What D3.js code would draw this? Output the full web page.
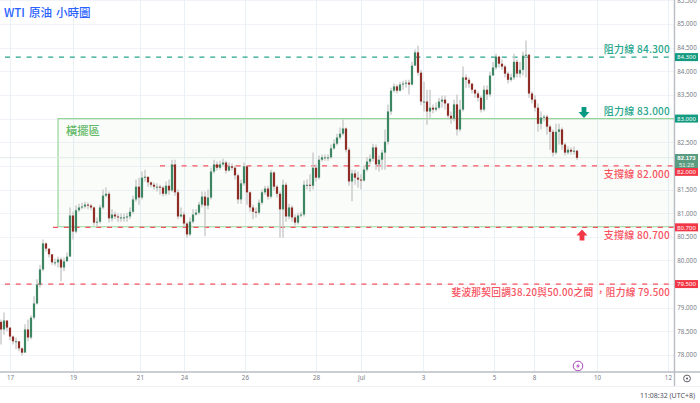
<!DOCTYPE html>
<html>
<head>
<meta charset="utf-8">
<script src="https://cdn.jsdelivr.net/npm/d3@7"></script>
<style>
  html, body { margin: 0; padding: 0; background: #fff; }
  svg { display: block; font-family: "Noto Sans CJK TC", "Noto Sans", sans-serif; }
</style>
</head>
<body>
<div id="chart"></div>
<script>
// WTI hourly candles
const opens = [78.70,78.54,78.73,78.58,78.39,78.29,78.29,78.14,78.05,78.54,78.37,78.79,79.09,79.49,79.81,80.36,80.25,80.13,79.96,79.96,80.02,79.85,79.98,80.08,80.95,80.61,81.06,81.12,81.14,81.18,81.16,81.12,80.80,80.82,81.12,81.37,81.41,80.89,80.97,80.93,80.91,80.91,80.91,80.93,81.03,81.29,81.56,81.33,81.75,81.77,81.65,81.60,81.56,81.56,81.54,81.41,81.58,81.48,82.03,81.44,80.93,80.97,80.78,80.55,80.82,80.97,81.01,81.18,81.35,81.16,81.33,81.88,82.03,81.96,82.03,82.07,81.90,81.99,81.96,81.80,81.29,81.63,81.99,81.44,81.12,81.03,81.01,81.22,81.44,81.52,81.35,81.86,81.56,81.41,81.08,81.60,80.93,81.12,80.91,80.80,80.95,80.97,81.60,81.60,81.58,81.96,81.75,82.13,82.18,82.18,82.18,82.37,82.47,82.60,82.68,82.79,82.34,81.67,81.84,81.75,81.71,81.69,81.92,82.09,82.15,82.39,82.03,82.13,82.28,82.51,83.15,83.59,83.68,83.59,83.72,83.74,83.76,83.72,84.12,84.40,83.97,83.36,83.36,83.15,83.23,83.19,83.23,83.36,83.40,83.32,83.06,83.00,83.30,82.77,83.19,83.87,83.82,83.74,83.61,83.53,83.44,83.19,83.61,83.51,83.91,84.08,84.31,84.16,84.10,83.95,83.82,83.87,84.20,83.95,84.03,84.33,84.35,83.53,83.40,83.23,82.89,83.02,83.04,82.83,82.72,82.28,82.72,82.77,82.45,82.28,82.34,82.30,82.32];
const closes = [78.54,78.73,78.58,78.39,78.29,78.29,78.14,78.05,78.54,78.37,78.79,79.09,79.49,79.81,80.36,80.25,80.13,79.96,79.96,80.02,79.85,79.98,80.08,80.95,80.61,81.06,81.12,81.14,81.18,81.16,81.12,80.80,80.82,81.12,81.37,81.41,80.89,80.97,80.93,80.91,80.91,80.91,80.93,81.03,81.29,81.56,81.33,81.75,81.77,81.65,81.60,81.56,81.56,81.54,81.41,81.58,81.48,82.03,81.44,80.93,80.97,80.78,80.55,80.82,80.97,81.01,81.18,81.35,81.16,81.33,81.88,82.03,81.96,82.03,82.07,81.90,81.99,81.96,81.80,81.29,81.63,81.99,81.44,81.12,81.03,81.01,81.22,81.44,81.52,81.35,81.86,81.56,81.41,81.08,81.60,80.93,81.12,80.91,80.80,80.95,80.97,81.60,81.60,81.58,81.96,81.75,82.13,82.18,82.18,82.18,82.37,82.47,82.60,82.68,82.79,82.34,81.67,81.84,81.75,81.71,81.69,81.92,82.09,82.15,82.39,82.03,82.13,82.28,82.51,83.15,83.59,83.68,83.59,83.72,83.74,83.76,83.72,84.12,84.40,83.97,83.36,83.36,83.15,83.23,83.19,83.23,83.36,83.40,83.32,83.06,83.00,83.30,82.77,83.19,83.87,83.82,83.74,83.61,83.53,83.44,83.19,83.61,83.51,83.91,84.08,84.31,84.16,84.10,83.95,83.82,83.87,84.20,83.95,84.03,84.33,84.35,83.53,83.40,83.23,82.89,83.02,83.04,82.83,82.72,82.28,82.72,82.77,82.45,82.28,82.34,82.30,82.32,82.17];
const highs = [78.75,78.90,78.71,78.52,78.41,78.37,78.25,78.16,78.65,78.75,78.84,79.24,79.60,79.91,80.44,80.38,80.23,80.06,80.04,80.08,80.06,80.06,80.17,81.12,81.03,81.16,81.20,81.22,81.24,81.22,81.20,81.14,80.91,81.18,81.50,81.54,81.46,81.08,81.03,80.99,80.99,80.99,81.01,81.12,81.37,81.71,81.75,81.88,81.92,81.75,81.67,81.65,81.63,81.60,81.58,81.67,81.71,82.13,82.13,81.50,81.12,81.03,80.82,80.91,81.08,81.08,81.24,81.46,81.46,81.50,81.96,82.13,82.09,82.11,82.15,82.11,82.07,82.05,82.01,81.84,81.71,82.07,82.01,81.46,81.18,81.12,81.29,81.50,81.58,81.58,81.92,81.88,81.60,81.46,81.71,81.65,81.20,81.16,80.97,81.01,81.03,81.69,81.71,81.82,82.28,82.03,82.22,82.24,82.24,82.24,82.45,82.56,82.68,82.81,82.98,82.81,82.39,81.92,81.92,81.88,81.82,82.01,82.18,82.24,82.47,82.45,82.22,82.34,82.77,83.30,83.65,83.74,83.72,83.78,83.80,83.82,83.82,84.20,84.46,84.54,84.03,83.78,83.61,83.61,83.30,83.34,83.44,83.49,83.49,83.32,83.15,83.40,83.51,83.40,84.10,83.93,83.87,83.74,83.61,83.57,83.49,83.70,83.70,83.99,84.20,84.37,84.33,84.25,84.14,83.99,83.95,84.37,84.25,84.20,84.42,84.65,84.37,83.57,83.49,83.32,83.15,83.08,83.08,82.87,82.77,82.89,82.89,82.81,82.49,82.41,82.39,82.41,82.34];
const lows = [78.22,78.43,78.50,78.31,78.22,78.12,78.08,77.99,78.08,78.29,78.33,78.75,79.07,79.43,79.77,80.19,80.06,79.91,79.89,79.85,79.56,79.77,80.02,80.13,80.44,80.57,81.03,81.08,81.10,81.08,81.06,80.74,80.70,80.78,81.08,81.33,80.80,80.82,80.87,80.82,80.82,80.82,80.82,80.87,80.99,81.24,81.18,81.29,81.67,81.56,81.54,81.50,81.46,81.39,81.35,81.37,81.39,81.44,81.37,80.87,80.91,80.70,80.48,80.51,80.78,80.95,80.97,81.12,80.51,81.08,81.29,81.84,81.90,81.92,81.99,81.84,81.88,81.90,81.71,81.20,81.20,81.58,81.18,81.03,80.87,80.91,80.97,81.18,81.39,81.29,81.31,81.48,81.33,80.48,80.48,80.82,80.87,80.82,80.74,80.76,80.91,80.93,81.50,81.46,81.50,81.67,81.71,82.09,82.11,82.11,82.15,82.34,82.43,82.56,82.64,82.28,81.58,81.25,81.60,81.54,81.50,81.67,81.88,82.03,82.09,81.92,81.88,81.92,81.92,82.45,83.08,83.55,83.53,83.57,83.61,83.65,83.51,83.70,84.12,83.91,83.28,83.15,82.87,83.02,83.11,83.15,83.19,83.23,83.19,82.98,82.89,82.94,82.64,82.72,83.15,83.65,83.65,83.53,83.44,83.36,83.13,83.15,83.40,83.46,83.95,84.03,84.08,84.03,83.87,83.74,83.78,83.82,83.87,83.87,83.91,83.87,83.44,83.32,83.15,82.72,82.77,82.94,82.66,82.34,82.20,82.24,82.45,82.34,82.22,82.24,82.24,82.24,82.13];

// Axis ticks
const priceTicks = [85.5,85,84.5,84,83.5,82.5,81.5,81,80.5,80,79,78.5,78];
const gridPrices = [85.5,85,84.5,84,83.5,83,82.5,82,81.5,81,80.5,80,79.5,79,78.5,78];
const dateTickLabels = ['17','19','21','24','26','28','Jul','3','5','8','10','12'];
const dateTickIndex = [3,24,46.3,61,81.3,105,120,140.7,164.3,177.7,198.7,222.3];

// Horizontal levels
const resistanceLevels = [84.3];
const supportLevels = [82, 80.7, 79.5];
const rangeBox = [83, 80.7];
const lastPrice = 82.173;

// Dimensions
const width = 700, height = 403;
const plotRight = 674, plotBottom = 372;

const x = d3.scaleLinear().domain([0, 224]).range([1, 673]);
const y = d3.scaleLinear().domain([78, 85]).range([355, 24]);

const green = '#26a68c', red = '#f7525f';

const svg = d3.select('#chart').append('svg')
  .attr('width', width)
  .attr('height', height);

// Grid
svg.append('g').selectAll('line').data(gridPrices).join('line')
  .attr('x1', 0).attr('x2', plotRight)
  .attr('y1', d => Math.round(y(d)) + 0.5).attr('y2', d => Math.round(y(d)) + 0.5)
  .attr('stroke', '#f0f3f8');
svg.append('g').selectAll('line').data(dateTickIndex).join('line')
  .attr('x1', d => Math.round(x(d)) + 0.5).attr('x2', d => Math.round(x(d)) + 0.5)
  .attr('y1', 0).attr('y2', plotBottom)
  .attr('stroke', '#eaf1f6');

// Range box
svg.append('rect')
  .attr('x', 58).attr('width', plotRight - 58)
  .attr('y', y(rangeBox[0])).attr('height', y(rangeBox[1]) - y(rangeBox[0]))
  .attr('fill', '#4caf50').attr('fill-opacity', 0.035);
svg.append('path')
  .attr('d', `M${plotRight},${y(rangeBox[0])}H58V${y(rangeBox[1]) - 0.6}H${plotRight}`)
  .attr('fill', 'none')
  .attr('stroke', '#97d69a')
  .attr('stroke-width', 1.2);
svg.append('text')
  .attr('x', 66).attr('y', 135)
  .attr('font-size', 11.3).attr('font-weight', 500).attr('fill', '#62b967')
  .text('橫擺區');

// Current price line
svg.append('line')
  .attr('x1', 0).attr('x2', plotRight)
  .attr('y1', y(lastPrice)).attr('y2', y(lastPrice))
  .attr('stroke', '#e3ebe7');

// Dashed levels
const levelStart = d => d === 82 ? 160 : d === 80.7 ? 53 : 5;
svg.append('g').selectAll('line').data(resistanceLevels).join('line')
  .attr('x1', 5).attr('x2', plotRight)
  .attr('y1', d => y(d)).attr('y2', d => y(d))
  .attr('stroke', green).attr('stroke-width', 1.1)
  .attr('stroke-dasharray', '5,5.8');
svg.append('g').selectAll('line').data(supportLevels).join('line')
  .attr('x1', levelStart).attr('x2', plotRight)
  .attr('y1', d => y(d)).attr('y2', d => y(d))
  .attr('stroke', red).attr('stroke-width', 1.2)
  .attr('stroke-dasharray', '5,5.8');

// Candles
const candles = svg.append('g').selectAll('g').data(closes).join('g');
candles.append('line')
  .attr('x1', (d, i) => x(i)).attr('x2', (d, i) => x(i))
  .attr('y1', (d, i) => y(highs[i])).attr('y2', (d, i) => y(lows[i]))
  .attr('stroke', '#c9c9c9').attr('stroke-width', 1.4);
candles.append('rect')
  .attr('x', (d, i) => x(i) - 1.1)
  .attr('width', 2.2)
  .attr('y', (d, i) => y(Math.max(opens[i], d)))
  .attr('height', (d, i) => Math.max(1, Math.abs(y(opens[i]) - y(d))))
  .attr('fill', (d, i) => d >= opens[i] ? '#3e8564' : '#8e2c26');

// Annotations
const notes = [
  { text: '阻力線 84.300', y: 52.8, color: green, size: 10 },
  { text: '阻力線 83.000', y: 114.5, color: green, size: 10 },
  { text: '支撐線 82.000', y: 177.7, color: red, size: 10 },
  { text: '支撐線 80.700', y: 239.4, color: red, size: 10 },
  { text: '斐波那契回調38.20與50.00之間 ，阻力線 79.500', y: 296.4, color: red, size: 9.7 }
];
svg.append('g').selectAll('text').data(notes).join('text')
  .attr('x', 670).attr('y', d => d.y)
  .attr('text-anchor', 'end')
  .attr('font-size', d => d.size)
  .attr('font-weight', 500)
  .attr('letter-spacing', 0.25)
  .attr('fill', d => d.color)
  .text(d => d.text);

// Arrows
const arrow = 'M-2.4,-5.5H2.4V-0.5H5.5L0,5.5L-5.5,-0.5H-2.4Z';
svg.append('path').attr('d', arrow)
  .attr('transform', 'translate(584,112.5)').attr('fill', '#089981');
svg.append('path').attr('d', arrow)
  .attr('transform', 'translate(582,235) rotate(180)').attr('fill', '#f23645');

// Lightning marker
const bolt = svg.append('g').attr('transform', 'translate(578,366)');
bolt.append('circle').attr('r', 4.8)
  .attr('fill', '#fff').attr('stroke', '#ab47bc').attr('stroke-width', 1);
bolt.append('path').attr('d', 'M1,-3L-2,0.5H0L-1,3L2,-0.5H0Z').attr('fill', '#ab47bc');

// Title
svg.append('text')
  .attr('x', 4).attr('y', 17)
  .attr('font-size', 11.5).attr('font-weight', 500)
  .attr('word-spacing', 1.5)
  .attr('fill', '#2962ff')
  .text('WTI 原油 小時圖');

// Right axis
svg.append('line')
  .attr('x1', plotRight + 0.5).attr('x2', plotRight + 0.5)
  .attr('y1', 0).attr('y2', plotBottom + 14)
  .attr('stroke', '#b9bcc3').attr('stroke-width', 1.4);
const yAxis = svg.append('g')
  .attr('transform', `translate(${plotRight},0)`)
  .call(d3.axisRight(y).tickValues(priceTicks).tickSize(0).tickFormat(d3.format('.3f')));
yAxis.select('.domain').remove();
yAxis.selectAll('text')
  .attr('x', 13).attr('text-anchor', 'middle')
  .attr('font-family', '"Noto Sans", sans-serif')
  .attr('font-size', 6.2)
  .attr('fill', '#787b86');

// Price tags
const tags = [
  { price: 84.3, fill: '#129b80' },
  { price: 83, fill: '#129b80' },
  { price: 82, fill: '#f23645', shift: 6 },
  { price: 80.7, fill: '#f23645' },
  { price: 79.5, fill: '#f23645' }
];
const tag = svg.append('g').selectAll('g').data(tags).join('g')
  .attr('transform', d => `translate(675,${y(d.price) + (d.shift || 0)})`);
tag.append('rect')
  .attr('y', -4).attr('width', 23).attr('height', 8)
  .attr('fill', d => d.fill);
tag.append('text')
  .attr('x', 11.5).attr('y', 2.2)
  .attr('text-anchor', 'middle')
  .attr('font-family', '"Noto Sans", sans-serif')
  .attr('font-size', 6).attr('fill', '#fff')
  .text(d => d.price.toFixed(3));

// Last price tag
const lastTag = svg.append('g').attr('transform', 'translate(675,154)');
lastTag.append('rect').attr('width', 23).attr('height', 14).attr('fill', '#5a9c80');
lastTag.append('text').attr('x', 11.5).attr('y', 5.9)
  .attr('text-anchor', 'middle').attr('font-family', '"Liberation Sans", sans-serif')
  .attr('font-size', 6).attr('font-weight', 700).attr('fill', '#fff')
  .text(lastPrice.toFixed(3));
lastTag.append('text').attr('x', 11.5).attr('y', 12.9)
  .attr('text-anchor', 'middle').attr('font-family', '"Liberation Sans", sans-serif')
  .attr('font-size', 6).attr('fill', '#e6f2ec')
  .text('51:28');

// Bottom axis
svg.append('line')
  .attr('x1', 0).attr('x2', width)
  .attr('y1', plotBottom).attr('y2', plotBottom)
  .attr('stroke', '#b9bcc3').attr('stroke-width', 1.6);
svg.append('line')
  .attr('x1', 0).attr('x2', width)
  .attr('y1', 386.5).attr('y2', 386.5)
  .attr('stroke', '#eef0f4');
const xAxis = svg.append('g')
  .attr('transform', `translate(0,${plotBottom})`)
  .call(d3.axisBottom(x).tickValues(dateTickIndex).tickSize(0)
    .tickFormat((d, i) => dateTickLabels[i]));
xAxis.select('.domain').remove();
xAxis.selectAll('text')
  .attr('y', 4).attr('dy', '0.71em')
  .attr('font-family', '"Noto Sans", sans-serif')
  .attr('font-size', 6.2)
  .attr('fill', '#787b86');

// Settings icon
const gear = svg.append('g').attr('transform', 'translate(687,378.5)');
gear.append('circle').attr('r', 3.4).attr('fill', 'none').attr('stroke', '#5f6169').attr('stroke-width', 1);
gear.append('circle').attr('r', 1.1).attr('fill', '#5f6169');

// Clock
svg.append('text')
  .attr('x', 695).attr('y', 398)
  .attr('text-anchor', 'end')
  .attr('font-family', '"Noto Sans", sans-serif')
  .attr('font-size', 7).attr('fill', '#50535e')
  .text('11:08:32 (UTC+8)');
</script>
</body>
</html>
